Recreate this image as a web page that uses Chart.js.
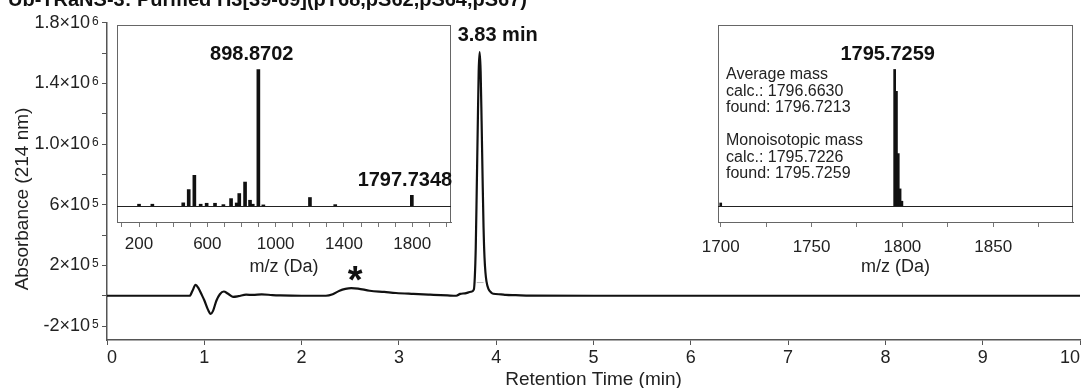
<!DOCTYPE html>
<html>
<head>
<meta charset="utf-8">
<script src="https://cdn.jsdelivr.net/npm/chart.js@4.4.0/dist/chart.umd.min.js"></script>
<style>
  body { margin: 0; background: #fff; overflow: hidden; }
  #wrap { position: relative; width: 1083px; height: 388px; }
  canvas { position: absolute; }
</style>
</head>
<body>
<div id="wrap">
  <canvas id="main" width="1083" height="388" style="left:0;top:0"></canvas>
  <canvas id="left" width="374" height="260" style="left:97px;top:20px"></canvas>
  <canvas id="right" width="385" height="260" style="left:698px;top:20px"></canvas>
</div>
<script>
// chromatogram (retention time in min, absorbance at 214 nm)
const rtMin = [0, 0.5, 0.85, 0.88, 0.91, 0.94, 0.97, 1.0, 1.04, 1.066,
  1.09, 1.124, 1.16, 1.2, 1.24, 1.295, 1.35, 1.43, 1.5, 1.59,
  1.7, 1.78, 2.0, 2.25, 2.32, 2.39, 2.45, 2.51, 2.58, 2.7,
  2.85, 2.97, 3.15, 3.32, 3.5, 3.59, 3.63, 3.68, 3.74, 3.77,
  3.78, 3.79, 3.8, 3.81, 3.82, 3.83, 3.84, 3.85, 3.86, 3.87,
  3.88, 3.89, 3.9, 3.92, 3.95, 3.97, 4.05, 4.1, 4.2, 4.35,
  5, 6, 7, 8, 9, 10];
const absorbance = [0, 0, 0, 35000, 72000, 50000, 11000, -30000, -95000, -120000,
  -100000, -33000, 10000, 28000, 15000, -7000, -3000, 7000, 5000, 9000,
  4000, 2000, 0, 0, 10000, 33000, 45000, 50000, 47000, 33000,
  25000, 18000, 12000, 7000, 2000, 0, 12000, 16000, 26000, 40000,
  120000, 320000, 700000, 1100000, 1480000, 1606000, 1480000, 1150000, 780000, 450000,
  250000, 150000, 95000, 45000, 20000, 13000, 9000, 6000, 4000, 1000,
  0, 0, 0, 0, 0, 0];
// integration baseline under the main peak
const peakBaseT = [3.8, 3.87];
const peakBaseY = [87000, 87000];

const xTicks = [0, 1, 2, 3, 4, 5, 6, 7, 8, 9, 10];
const yTicks = [-200000, 0, 200000, 400000, 600000, 800000, 1000000, 1200000, 1400000, 1600000, 1800000];
const yLabelValues = [-200000, 200000, 600000, 1000000, 1400000, 1800000];
const yLabelText = ['-2×10', '2×10', '6×10', '1.0×10', '1.4×10', '1.8×10'];
const yLabelExp = ['5', '5', '5', '6', '6', '6'];

// inset 1: full MS spectrum
const leftMz = [200, 278, 459, 491, 524, 561, 596, 645, 694, 739, 772, 787, 821, 850, 866, 898.87, 928, 1201, 1349, 1797.73];
const leftInt = [1.5, 1.5, 2.5, 12.2, 22.6, 1.5, 2.2, 2.2, 1.2, 5.6, 2.4, 9.3, 17.7, 4.4, 1.5, 100, 1, 6.4, 1.2, 8];
const leftTicks = [100, 200, 300, 400, 500, 600, 700, 800, 900, 1000, 1100, 1200, 1300, 1400, 1500, 1600, 1700, 1800, 1900, 2000];
const leftLabels = [200, 600, 1000, 1400, 1800];

// inset 2: deconvoluted mass
const rightMz = [1700, 1795.73, 1796.73, 1797.73, 1798.73, 1799.73];
const rightInt = [2.4, 100, 84, 38.5, 12.7, 3.7];
const rightTicks = [1700, 1725, 1750, 1775, 1800, 1825, 1850, 1875];
const rightLabels = [1700, 1750, 1800, 1850];
const massNotes = ['Average mass', 'calc.: 1796.6630', 'found: 1796.7213', '',
  'Monoisotopic mass', 'calc.: 1795.7226', 'found: 1795.7259'];

const FONT = '"Liberation Sans", Arial, Helvetica, sans-serif';
Chart.defaults.font.family = FONT;
Chart.defaults.color = '#222';
Chart.defaults.animation = false;

const mainText = {
  id: 'mainText',
  afterDraw(chart) {
    const {ctx, scales: {x, y}} = chart;
    ctx.save();
    // exponents of the y tick labels
    ctx.fillStyle = '#222';
    ctx.font = '12px ' + FONT;
    ctx.textAlign = 'left';
    ctx.textBaseline = 'alphabetic';
    yLabelValues.forEach((v, i) => ctx.fillText(yLabelExp[i], 92, y.getPixelForValue(v) + 2));

    ctx.fillStyle = '#111';
    ctx.font = 'bold 20px ' + FONT;
    ctx.fillText('Ub-TRaNS-3: Purified H3[39-69](pT68,pS62,pS64,pS67)', 8, 6);

    ctx.textAlign = 'center';
    ctx.textBaseline = 'middle';
    ctx.fillText('3.83 min', x.getPixelForValue(4.015), y.getPixelForValue(1715000));
    ctx.font = 'bold 38px ' + FONT;
    ctx.textBaseline = 'alphabetic';
    ctx.fillText('*', x.getPixelForValue(2.55), y.getPixelForValue(138000) + 18);

    ctx.font = '19px ' + FONT;
    ctx.fillStyle = '#222';
    ctx.translate(23, 199);
    ctx.rotate(-Math.PI / 2);
    ctx.textBaseline = 'middle';
    ctx.fillText('Absorbance (214 nm)', 0, 0);
    ctx.restore();
  }
};

new Chart(document.getElementById('main'), {
  type: 'line',
  data: {
    datasets: [{
      data: rtMin.map((t, i) => ({x: t, y: absorbance[i]})),
      borderColor: '#111',
      borderWidth: 2.2,
      pointRadius: 0,
      cubicInterpolationMode: 'monotone'
    }, {
      data: peakBaseT.map((t, i) => ({x: t, y: peakBaseY[i]})),
      borderColor: '#bbb',
      borderWidth: 1,
      pointRadius: 0
    }]
  },
  options: {
    responsive: false,
    layout: {padding: {top: 20, right: 3, left: 0, bottom: 0}},
    plugins: {legend: {display: false}, tooltip: {enabled: false}},
    scales: {
      x: {
        type: 'linear', min: 0, max: 10,
        afterBuildTicks: s => { s.ticks = xTicks.map(v => ({value: v})); },
        afterFit: s => { s.height = 48; s.paddingLeft = 0; s.paddingRight = 0; },
        ticks: {font: {size: 18}, padding: 2, maxRotation: 0, autoSkip: false, align: 'inner', color: '#222'},
        grid: {drawOnChartArea: false, tickLength: 5, color: '#555'},
        border: {color: '#555', width: 1.5},
        title: {display: true, text: 'Retention Time (min)', font: {size: 19}, padding: {top: 0, bottom: -3}, color: '#222'}
      },
      y: {
        min: -292000, max: 1800000,
        afterBuildTicks: s => { s.ticks = yTicks.map(v => ({value: v})); },
        afterFit: s => { s.width = 107; },
        ticks: {
          font: {size: 18}, padding: 12, autoSkip: false, color: '#222',
          callback: v => { const i = yLabelValues.indexOf(v); return i < 0 ? '' : yLabelText[i]; }
        },
        grid: {drawOnChartArea: false, tickLength: 5, color: '#555'},
        border: {color: '#555', width: 1.5}
      }
    }
  },
  plugins: [mainText]
});

function insetDecor(labels, notes) {
  return {
    id: 'insetDecor',
    afterDatasetsDraw(chart) {
      const {ctx, chartArea: a, scales: {x, y}} = chart;
      ctx.save();
      ctx.strokeStyle = '#666';
      ctx.lineWidth = 1;
      ctx.strokeRect(a.left + 0.5, a.top + 0.5, a.width - 1, a.height);
      const y0 = Math.round(y.getPixelForValue(0)) + 0.5;
      ctx.strokeStyle = '#222';
      ctx.beginPath();
      ctx.moveTo(a.left, y0);
      ctx.lineTo(a.right, y0);
      ctx.stroke();

      ctx.fillStyle = '#111';
      ctx.textAlign = 'center';
      ctx.textBaseline = 'middle';
      ctx.font = 'bold 20px ' + FONT;
      labels.forEach(l => ctx.fillText(l.text, x.getPixelForValue(l.x), y.getPixelForValue(l.y)));
      if (notes) {
        ctx.font = '16px ' + FONT;
        ctx.textAlign = 'left';
        ctx.fillStyle = '#222';
        const nx = x.getPixelForValue(notes.x);
        const ny = y.getPixelForValue(notes.y);
        notes.lines.forEach((t, i) => ctx.fillText(t, nx, ny + i * 16.5));
      }
      ctx.restore();
    }
  };
}

function inset(id, mz, inten, min, max, ticks, tickLabels, barW, padRight, labelPad, decor) {
  new Chart(document.getElementById(id), {
    type: 'bar',
    data: {
      datasets: [{
        data: mz.map((m, i) => ({x: m, y: inten[i]})),
        backgroundColor: '#111',
        barThickness: barW
      }]
    },
    options: {
      responsive: false,
      layout: {padding: {top: 5, left: 20, right: padRight, bottom: 0}},
      plugins: {legend: {display: false}, tooltip: {enabled: false}},
      scales: {
        x: {
          type: 'linear', min: min, max: max, offset: false,
          afterBuildTicks: s => { s.ticks = ticks.map(v => ({value: v})); },
          afterFit: s => { s.height = 58; s.paddingLeft = 0; s.paddingRight = 0; },
          ticks: {
            font: {size: 17}, padding: labelPad, maxRotation: 0, autoSkip: false, color: '#222',
            callback: v => tickLabels.includes(v) ? String(v) : ''
          },
          grid: {drawOnChartArea: false, offset: false, tickLength: 5, color: '#777'},
          border: {color: '#666'},
          title: {display: true, text: 'm/z (Da)', font: {size: 18}, padding: {top: 0, bottom: 2}, color: '#222'}
        },
        y: {display: false, min: -11.5, max: 132.5}
      }
    },
    plugins: [decor]
  });
}

inset('left', leftMz, leftInt, 71, 2027, leftTicks, leftLabels, 3, 20, 7,
  insetDecor([{text: '898.8702', x: 860, y: 111}, {text: '1797.7348', x: 1757, y: 19}]));
inset('right', rightMz, rightInt, 1698.5, 1893.9, rightTicks, rightLabels, 2, 10, 10,
  insetDecor([{text: '1795.7259', x: 1791.9, y: 110.6}], {x: 1702.9, y: 96, lines: massNotes}));
</script>
</body>
</html>
